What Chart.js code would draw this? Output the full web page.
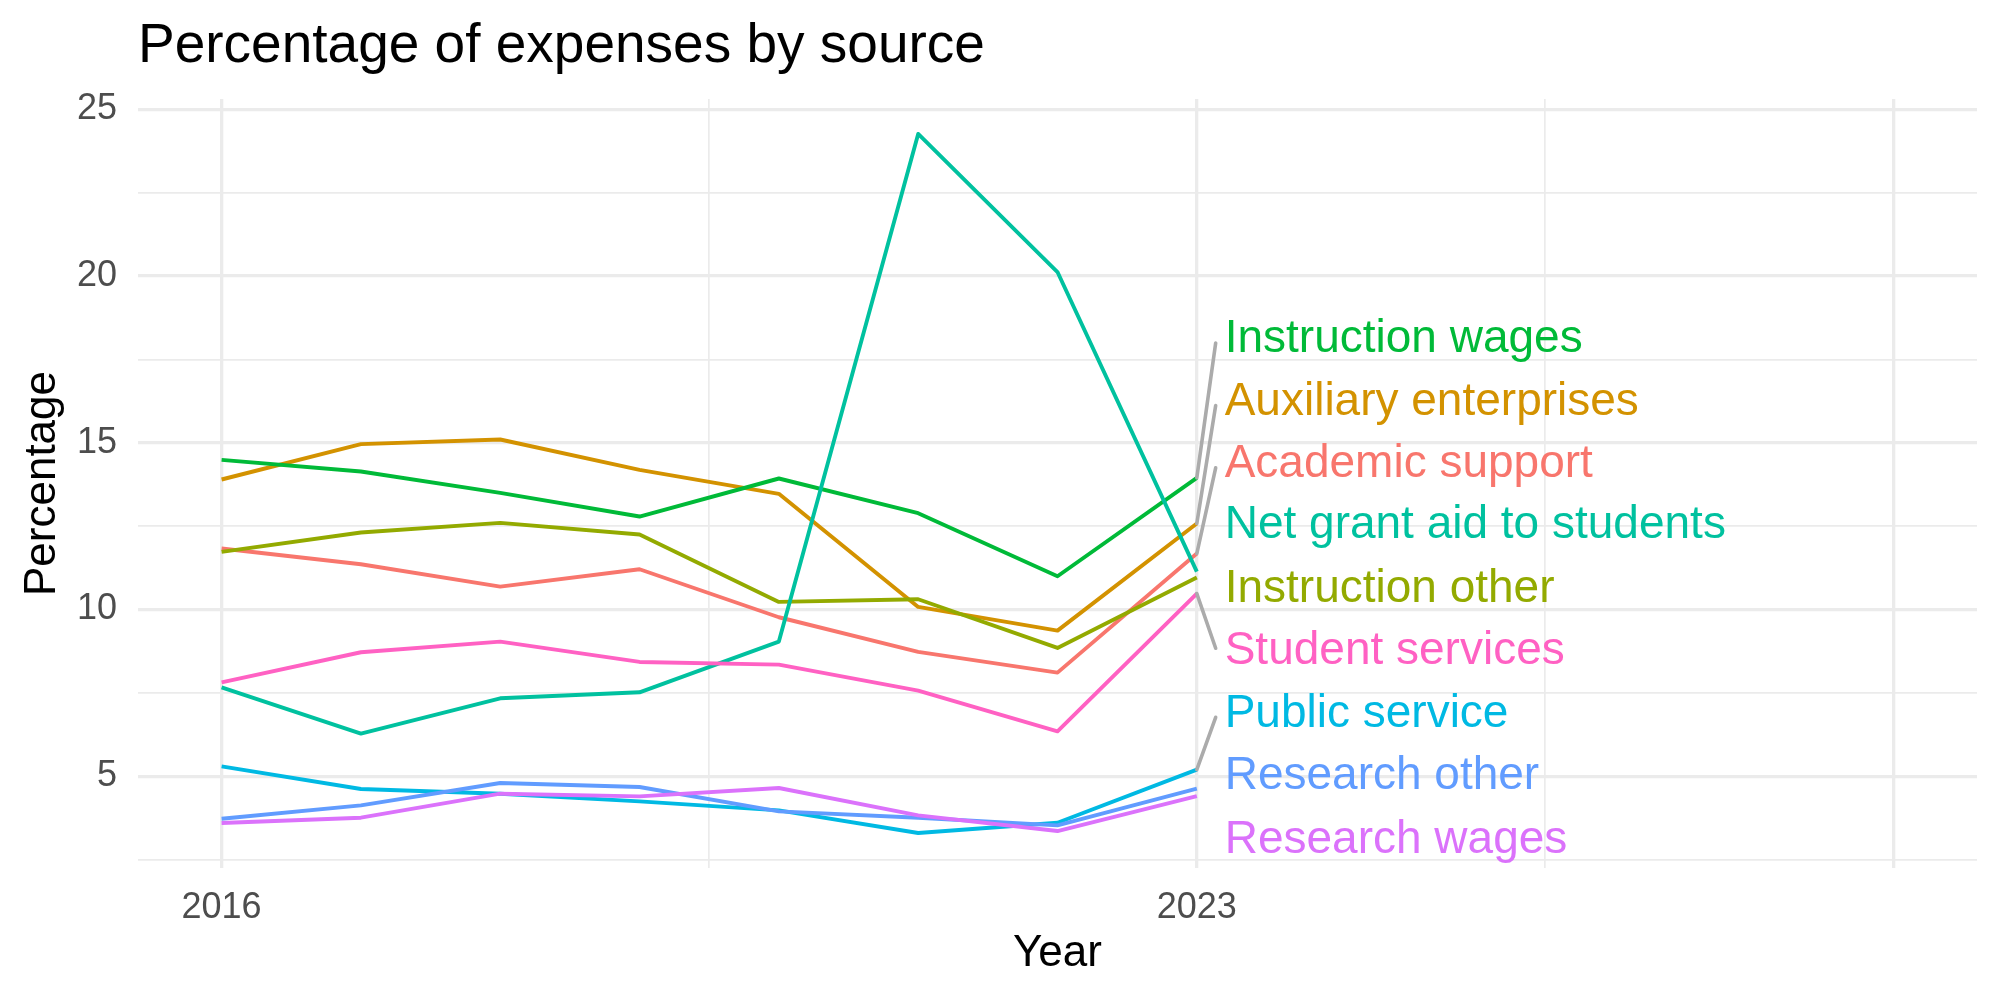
<!DOCTYPE html>
<html>
<head>
<meta charset="utf-8">
<script src="https://cdn.jsdelivr.net/npm/chart.js@4"></script>
<style>
  html, body { margin: 0; padding: 0; background: #fff; }
  #wrap { width: 2000px; height: 1000px; }
</style>
</head>
<body>
<div id="wrap"><canvas id="expChart" width="2000" height="1000"></canvas></div>
<script>
// data
const years = [2016, 2017, 2018, 2019, 2020, 2021, 2022, 2023];
const seriesNames = ['Academic support', 'Auxiliary enterprises', 'Instruction other', 'Instruction wages',
  'Net grant aid to students', 'Public service', 'Research other', 'Research wages', 'Student services'];
const academicSupport = [11.83, 11.36, 10.69, 11.21, 9.77, 8.73, 8.11, 11.68];
const auxiliaryEnterprises = [13.90, 14.96, 15.10, 14.19, 13.47, 10.08, 9.37, 12.58];
const instructionOther = [11.73, 12.31, 12.60, 12.25, 10.23, 10.31, 8.85, 10.96];
const instructionWages = [14.49, 14.14, 13.50, 12.79, 13.93, 12.89, 11.00, 13.95];
const netGrantAid = [7.67, 6.28, 7.34, 7.52, 9.04, 24.26, 20.12, 11.14];
const publicService = [5.30, 4.62, 4.48, 4.25, 3.98, 3.30, 3.61, 5.20];
const researchOther = [3.73, 4.13, 4.80, 4.68, 3.95, 3.76, 3.53, 4.63];
const researchWages = [3.60, 3.76, 4.48, 4.40, 4.65, 3.83, 3.36, 4.41];
const studentServices = [7.82, 8.72, 9.04, 8.43, 8.35, 7.57, 6.35, 10.48];
const allSeries = [academicSupport, auxiliaryEnterprises, instructionOther, instructionWages,
  netGrantAid, publicService, researchOther, researchWages, studentServices];

// axis breaks
const xMajor = [2016, 2023, 2028];
const xMinor = [2019.5, 2025.5];
const xLabels = { 2016: '2016', 2023: '2023' };
const yMajor = [5, 10, 15, 20, 25];
const yMinor = [2.5, 7.5, 12.5, 17.5, 22.5];

// where the repelled labels ended up (y in data units)
const labelX = 2023.2;
const labelY = [14.35, 16.22, 10.61, 18.09, 12.52, 6.87, 5.00, 3.09, 8.74];

const colors = ['#F8766D', '#D39200', '#93AA00', '#00BA38', '#00C19F', '#00B9E3', '#619CFF', '#DB72FB', '#FF61C3'];

const fontFam = "'Liberation Sans', Arial, sans-serif";
Chart.defaults.font.family = fontFam;

const allVals = allSeries.flat();
const yLo = Math.min(...allVals), yHi = Math.max(...allVals);
const yPad = (yHi - yLo) * 0.05;
const xPad = (2028 - 2016) * 0.05;

const titlePlugin = {
  id: 'ggTitle',
  afterDraw(chart) {
    const c = chart.ctx;
    c.save();
    c.font = '55px ' + fontFam;
    c.fillStyle = '#000';
    c.textAlign = 'left';
    c.textBaseline = 'alphabetic';
    c.fillText('Percentage of expenses by source', chart.chartArea.left, 62);
    c.restore();
  }
};

const repelPlugin = {
  id: 'repelLabels',
  afterDatasetsDraw(chart) {
    const c = chart.ctx;
    const xs = chart.scales.x, ys = chart.scales.y;
    const lx = xs.getPixelForValue(labelX);
    c.save();
    // segments first
    c.strokeStyle = '#ABABAB';
    c.lineWidth = 3.6;
    c.lineCap = 'round';
    allSeries.forEach((vals, i) => {
      const v = vals[vals.length - 1];
      const diff = v - labelY[i];
      if (Math.abs(diff) < 1.4) return;
      const px = xs.getPixelForValue(years[years.length - 1]);
      const py = ys.getPixelForValue(v);
      const ey = ys.getPixelForValue(labelY[i] + Math.sign(diff) * 0.1);
      c.beginPath();
      c.moveTo(px, py);
      c.lineTo(lx - 9, ey);
      c.stroke();
    });
    c.font = '46px ' + fontFam;
    c.textAlign = 'left';
    c.textBaseline = 'middle';
    seriesNames.forEach((name, i) => {
      c.fillStyle = colors[i];
      c.fillText(name, lx, ys.getPixelForValue(labelY[i]));
    });
    c.restore();
  }
};

new Chart(document.getElementById('expChart').getContext('2d'), {
  type: 'line',
  data: {
    datasets: seriesNames.map((name, i) => ({
      label: name,
      data: years.map((yr, j) => ({ x: yr, y: allSeries[i][j] })),
      borderColor: colors[i],
      backgroundColor: colors[i],
      borderWidth: 3.9,
      borderJoinStyle: 'round',
      pointRadius: 0,
      tension: 0,
      order: -i
    }))
  },
  options: {
    responsive: false,
    animation: false,
    layout: { padding: { top: 99, right: 23, bottom: 0, left: 0 } },
    plugins: { legend: { display: false }, tooltip: { enabled: false }, title: { display: false } },
    scales: {
      x: {
        type: 'linear',
        min: 2016 - xPad,
        max: 2028 + xPad,
        afterBuildTicks(scale) {
          scale.ticks = [...xMajor, ...xMinor].sort((a, b) => a - b).map(v => ({ value: v }));
        },
        afterFit(scale) { scale.height = 132; },
        border: { display: false },
        grid: {
          color: '#EBEBEB',
          drawTicks: false,
          lineWidth: ctx => xMajor.includes(ctx.tick.value) ? 3.3 : 1.7
        },
        ticks: {
          autoSkip: false,
          maxRotation: 0,
          padding: 18,
          color: '#4D4D4D',
          font: { size: 36 },
          callback: v => xLabels[v] || ''
        },
        title: {
          display: true,
          text: 'Year',
          color: '#000',
          font: { size: 44 },
          padding: { top: 0, bottom: 20 }
        }
      },
      y: {
        type: 'linear',
        min: yLo - yPad,
        max: yHi + yPad,
        afterBuildTicks(scale) {
          scale.ticks = [...yMajor, ...yMinor].sort((a, b) => a - b).map(v => ({ value: v }));
        },
        afterFit(scale) { scale.width = 138; },
        border: { display: false },
        grid: {
          color: '#EBEBEB',
          drawTicks: false,
          lineWidth: ctx => yMajor.includes(ctx.tick.value) ? 3.3 : 1.7
        },
        ticks: {
          autoSkip: false,
          padding: 21,
          color: '#4D4D4D',
          font: { size: 36 },
          callback: v => yMajor.includes(v) ? String(v) : ''
        },
        title: {
          display: true,
          text: 'Percentage',
          color: '#000',
          font: { size: 44 },
          padding: { top: 16, bottom: 0 }
        }
      }
    }
  },
  plugins: [titlePlugin, repelPlugin]
});
</script>
</body>
</html>
